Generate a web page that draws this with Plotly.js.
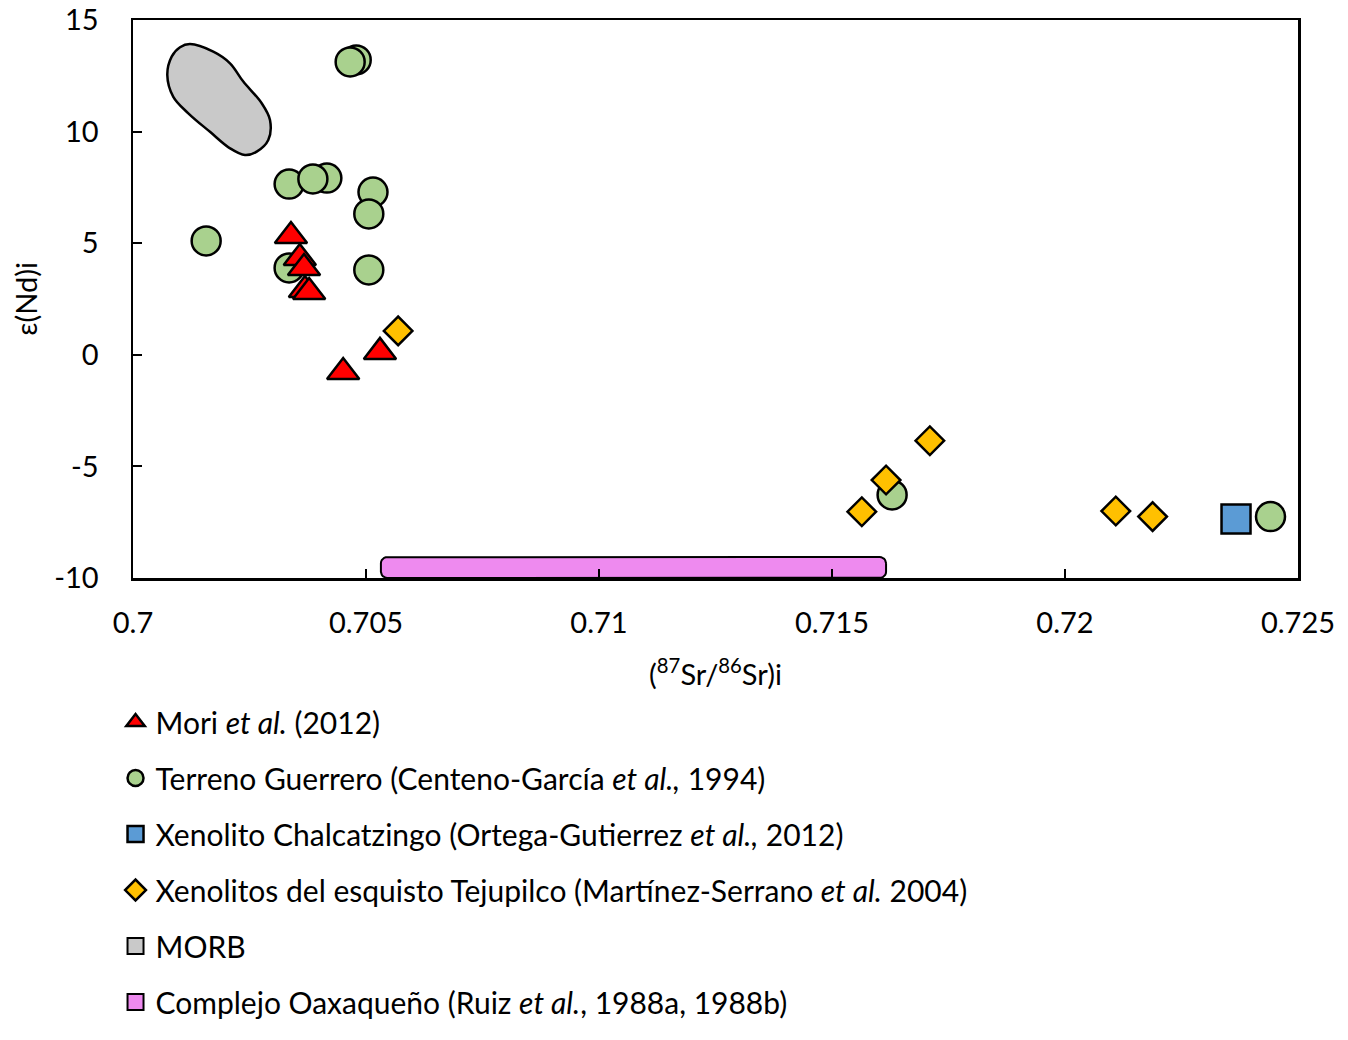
<!DOCTYPE html>
<html>
<head>
<meta charset="utf-8">
<script src="https://cdn.plot.ly/plotly-3.0.1.min.js"></script>
<style>html,body{margin:0;padding:0;background:#fff;}#chart{width:1348px;height:1040px;}</style>
</head>
<body>
<div id="chart"></div>
<script>
// ---- Data ----
const moriX = [0.70358, 0.70367, 0.70369, 0.70378, 0.70451, 0.70530, 0.70339];
const moriY = [4.34, 3.89, 2.90, 2.81, -0.77, 0.13, 5.32];

const guerreroX = [0.70479, 0.70466, 0.70335, 0.70416, 0.70386, 0.70515, 0.70506, 0.70157, 0.70335, 0.70506, 0.71629, 0.72441];
const guerreroY = [13.21, 13.12, 7.65, 7.92, 7.88, 7.29, 6.31, 5.10, 3.89, 3.80, -6.28, -7.25];

const chalcX = [0.72367];
const chalcY = [-7.36];

const tejX = [0.70569, 0.71710, 0.71616, 0.71564, 0.72109, 0.72188];
const tejY = [1.07, -3.85, -5.61, -7.03, -7.00, -7.25];

// MORB field outline
const morbX = [0.701723, 0.702082, 0.702367, 0.702762, 0.702940, 0.702903, 0.702655, 0.702403, 0.702082, 0.701652, 0.701187, 0.700865, 0.700736, 0.700830, 0.701009, 0.701223, 0.701723];
const morbY = [13.58, 13.06, 12.24, 11.27, 10.52, 9.62, 9.10, 8.95, 9.25, 9.99, 10.82, 11.56, 12.54, 13.36, 13.78, 13.92, 13.58];

// Complejo Oaxaqueño range (x extent, y extent)
const oaxX = [0.70532, 0.71616];
const oaxY = [-10.0, -9.06];

const xTickVals = [0.7, 0.705, 0.71, 0.715, 0.72, 0.725];
const xTickText = ['0.7', '0.705', '0.71', '0.715', '0.72', '0.725'];
const yTickVals = [-10, -5, 0, 5, 10, 15];
const yTickText = ['-10', '-5', '0', '5', '10', '15'];

const names = {
  mori: 'Mori <i>et al.</i> (2012)',
  guerrero: 'Terreno Guerrero (Centeno-García <i>et al.,</i> 1994)',
  chalc: 'Xenolito Chalcatzingo (Ortega-Gutierrez <i>et al.,</i> 2012)',
  tej: 'Xenolitos del esquisto Tejupilco (Martínez-Serrano <i>et al.</i> 2004)',
  morb: 'MORB',
  oax: 'Complejo Oaxaqueño (Ruiz <i>et al.</i>, 1988a, 1988b)'
};

// rounded rectangle outline for the Oaxaca bar
function roundedRect(x0, x1, y0, y1, rx, ry) {
  const xs = [], ys = [];
  const corners = [
    [x1 - rx, y1 - ry, 0],
    [x0 + rx, y1 - ry, 90],
    [x0 + rx, y0 + ry, 180],
    [x1 - rx, y0 + ry, 270]
  ];
  corners.forEach(c => {
    for (let a = 0; a <= 90; a += 15) {
      const t = (c[2] + a) * Math.PI / 180;
      xs.push(c[0] + rx * Math.cos(t));
      ys.push(c[1] + ry * Math.sin(t));
    }
  });
  xs.push(xs[0]); ys.push(ys[0]);
  return {xs, ys};
}
const oaxPoly = roundedRect(oaxX[0], oaxX[1], oaxY[0], oaxY[1], 0.00014, 0.28);

const FONT = 'Lato, "Open Sans", sans-serif';
const line = {color: '#000000', width: 2.5};

const traces = [
  {x: morbX, y: morbY, mode: 'lines', fill: 'toself', fillcolor: '#c9c9c9',
   line: {color: '#000', width: 2.5, shape: 'spline', smoothing: 1}, showlegend: false, hoverinfo: 'skip'},
  {x: oaxPoly.xs, y: oaxPoly.ys, mode: 'lines', fill: 'toself', fillcolor: '#ee8aef',
   line: {color: '#000', width: 2}, showlegend: false, hoverinfo: 'skip'},
  {x: guerreroX, y: guerreroY, mode: 'markers', name: names.guerrero, legendrank: 2, legendgroup: 'g2',
   marker: {symbol: 'circle', size: 29, color: '#a9d18e', line: line}},
  {x: moriX, y: moriY, mode: 'markers', name: names.mori, legendrank: 1, legendgroup: 'g1',
   marker: {symbol: 'triangle-up', size: 28, color: '#ff0000', line: line}},
  {x: chalcX, y: chalcY, mode: 'markers', name: names.chalc, legendrank: 3, legendgroup: 'g3',
   marker: {symbol: 'square', size: 29, color: '#5b9bd5', line: line}},
  {x: tejX, y: tejY, mode: 'markers', name: names.tej, legendrank: 4, legendgroup: 'g4',
   marker: {symbol: 'diamond', size: 22, color: '#ffc000', line: line}},
  {x: [null], y: [null], mode: 'markers', name: names.morb, legendrank: 5, legendgroup: 'g5',
   marker: {symbol: 'square', size: 22, color: '#c9c9c9', line: {color: '#000', width: 2}}},
  {x: [null], y: [null], mode: 'markers', name: names.oax, legendrank: 6, legendgroup: 'g6',
   marker: {symbol: 'square', size: 22, color: '#ee8aef', line: {color: '#000', width: 2}}}
];

const axisCommon = {
  showline: true, linecolor: '#000', linewidth: 2.5, mirror: true,
  ticks: 'inside', ticklen: 9, tickwidth: 2, tickcolor: '#000',
  showgrid: false, zeroline: false,
  tickfont: {family: FONT, size: 29, color: '#000'}
};

const layout = {
  width: 1348, height: 1040,
  margin: {l: 133, r: 50, t: 20, b: 462},
  paper_bgcolor: '#fff', plot_bgcolor: '#fff',
  font: {family: FONT, color: '#000'},
  xaxis: Object.assign({}, axisCommon, {
    range: [0.7, 0.725], tickmode: 'array', tickvals: xTickVals, ticktext: xTickText,
    ticklabelstandoff: 18,
    title: {text: '(<sup>87</sup>Sr/<sup>86</sup>Sr)i', font: {family: FONT, size: 29, color: '#000'}, standoff: 27}
  }),
  yaxis: Object.assign({}, axisCommon, {
    range: [-10, 15], tickmode: 'array', tickvals: yTickVals, ticktext: yTickText,
    ticklabelstandoff: 26
  }),
  annotations: [{
    text: 'ε(Nd)i', xref: 'paper', yref: 'paper', x: -0.093, y: 0.5,
    xanchor: 'center', yanchor: 'middle', textangle: -90, showarrow: false,
    font: {family: FONT, size: 29, color: '#000'}
  }],
  showlegend: true,
  legend: {
    orientation: 'v', x: -0.015, xanchor: 'left', y: -0.2115, yanchor: 'top',
    font: {family: FONT, size: 30, color: '#000'},
    tracegroupgap: 14, bgcolor: 'rgba(0,0,0,0)', traceorder: 'grouped'
  }
};

Plotly.newPlot('chart', traces, layout, {displayModeBar: false, staticPlot: true});
</script>
</body>
</html>
